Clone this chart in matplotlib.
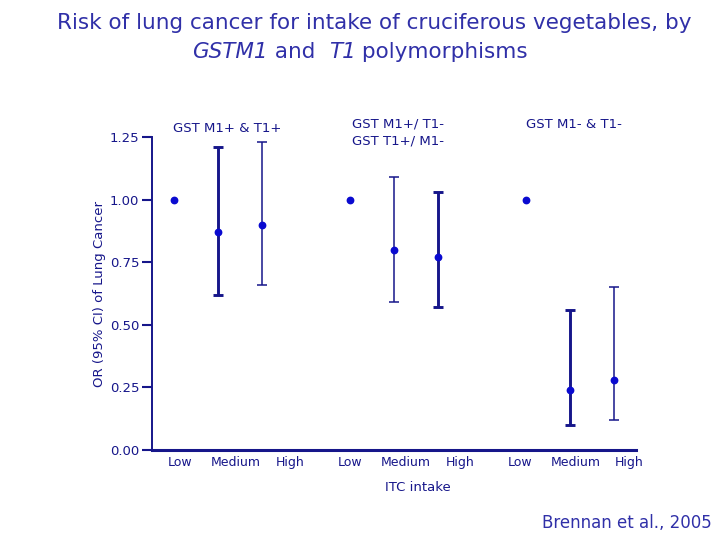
import matplotlib
matplotlib.use("Agg")
import matplotlib.pyplot as plt
from matplotlib.offsetbox import TextArea, HPacker, AnnotationBbox
import numpy as np

# ---- data ----
groups = ["GST M1+ & T1+", "GST M1+/ T1-\nGST T1+/ M1-", "GST M1- & T1-"]
intake_levels = ["Low", "Medium", "High"]
or_values = [1.00, 0.87, 0.90, 1.00, 0.80, 0.77, 1.00, 0.24, 0.28]
ci_lower = [np.nan, 0.62, 0.66, np.nan, 0.59, 0.57, np.nan, 0.10, 0.12]
ci_upper = [np.nan, 1.21, 1.23, np.nan, 1.09, 1.03, np.nan, 0.56, 0.65]
thick_bar = [False, True, False, False, False, True, False, True, False]
y_ticks = [0.00, 0.25, 0.50, 0.75, 1.00, 1.25]

navy = "#16168a"
dot = "#0a0ad0"
title_c = "#3030a8"

fig = plt.figure(figsize=(7.2, 5.4), dpi=100)
ax = fig.add_axes([0.211, 0.1667, 0.672, 0.5793])

xpos = [g * 4 + i for g in range(3) for i in range(3)]

for x, v, lo, hi, thick in zip(xpos, or_values, ci_lower, ci_upper, thick_bar):
    if not np.isnan(lo):
        lw = 2.1 if thick else 1.1
        ax.errorbar([x], [v], yerr=[[v - lo], [hi - v]], fmt="none",
                    ecolor=navy, elinewidth=lw, capsize=3.8, capthick=lw,
                    zorder=2)
ax.plot(xpos, or_values, "o", color=dot, markersize=4.6, linestyle="none", zorder=3)

ax.set_xlim(-0.5, 10.5)
ax.set_ylim(0, 1.25)
ax.set_yticks(y_ticks)
ax.set_yticklabels([f"{t:.2f}" for t in y_ticks], fontsize=9.5, color=navy)
ax.set_xticks([])
for s in ["top", "right"]:
    ax.spines[s].set_visible(False)
ax.spines["left"].set_color(navy)
ax.spines["left"].set_linewidth(1.4)
ax.spines["bottom"].set_color(navy)
ax.spines["bottom"].set_linewidth(2.2)
ax.tick_params(axis="y", direction="out", length=7, width=1.5, color=navy, pad=2)

# x category labels (offset positions as in reference)
label_offsets = [0.14, 1.41, 2.64]
for g in range(3):
    for i, lab in enumerate(intake_levels):
        ax.text(g * 3.9 + label_offsets[i] - 0.04 * g, -0.025, lab,
                transform=ax.transData, ha="center", va="top", fontsize=9, color=navy)

ax.set_ylabel("OR (95% CI) of Lung Cancer", fontsize=9.5, color=navy, labelpad=3)
ax.text(0.55, -0.1, "ITC intake", transform=ax.transAxes, ha="center", va="top",
        fontsize=9.5, color=navy)

# group labels
group_x = [1.2, 5.1, 9.1]
group_y = [1.285, 1.268, 1.30]
for gx, gy, gl in zip(group_x, group_y, groups):
    ax.text(gx, gy, gl, ha="center", va="center", fontsize=9.5, color=navy,
            linespacing=1.45, clip_on=False)

fig.text(0.52, 0.958, "Risk of lung cancer for intake of cruciferous vegetables, by",
         ha="center", va="center", fontsize=15.5, color=title_c)
tp_n = dict(fontsize=15.5, color=title_c)
tp_i = dict(fontsize=15.5, color=title_c, style="italic")
pieces = [TextArea("GSTM1", textprops=tp_i), TextArea(" and  ", textprops=tp_n),
          TextArea("T1", textprops=tp_i), TextArea(" polymorphisms", textprops=tp_n)]
box = HPacker(children=pieces, align="baseline", pad=0, sep=0)
ab = AnnotationBbox(box, (0.50, 0.903), xycoords="figure fraction", frameon=False,
                    box_alignment=(0.5, 0.5))
fig.add_artist(ab)
fig.text(0.989, 0.014, "Brennan et al., 2005", ha="right", va="bottom",
         fontsize=12, color=title_c)

fig.savefig("out.png", dpi=100)
